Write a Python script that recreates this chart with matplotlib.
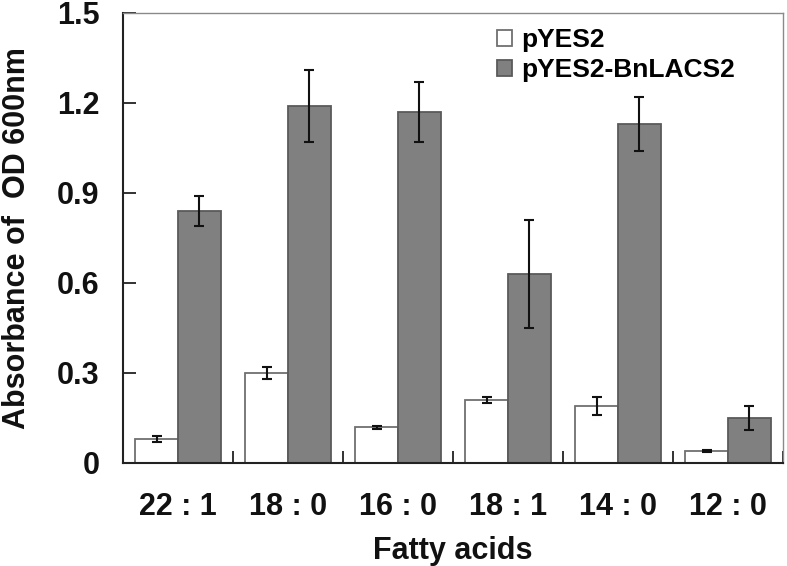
import numpy as np
import matplotlib
matplotlib.use("Agg")
import matplotlib.pyplot as plt
from matplotlib.ticker import FixedLocator

plt.rcParams["font.family"] = ["Liberation Sans", "DejaVu Sans"]
plt.rcParams["font.weight"] = "bold"

# Data
categories = ["22 : 1", "18 : 0", "16 : 0", "18 : 1", "14 : 0", "12 : 0"]
ctrl_vals = [0.08, 0.30, 0.12, 0.21, 0.19, 0.04]
ctrl_err = [0.01, 0.02, 0.005, 0.01, 0.03, 0.003]
lacs_vals = [0.84, 1.19, 1.17, 0.63, 1.13, 0.15]
lacs_err = [0.05, 0.12, 0.10, 0.18, 0.09, 0.04]
series_names = ["pYES2", "pYES2-BnLACS2"]

fig = plt.figure(figsize=(7.87, 5.66), dpi=100)
ax = fig.add_axes([123 / 787, 1 - 463 / 566, 660 / 787, 450 / 566])

x = np.arange(len(categories))
w = 0.39
err_kw = dict(ecolor="#111111", elinewidth=1.5, capsize=3.5, capthick=1.5)
ax.bar(x - w / 2, ctrl_vals, w, yerr=ctrl_err, color="white", edgecolor="#707070",
       linewidth=1.3, error_kw=err_kw, label=series_names[0])
ax.bar(x + w / 2, lacs_vals, w, yerr=lacs_err, color="#808080", edgecolor="#5a5a5a",
       linewidth=1.3, error_kw=err_kw, label=series_names[1])

ax.set_xlim(-0.5, len(categories) - 0.5)
ax.set_ylim(0, 1.5)

ax.set_yticks([0, 0.3, 0.6, 0.9, 1.2, 1.5])
ax.set_yticklabels(["0", "0.3", "0.6", "0.9", "1.2", "1.5"])
ax.set_xticks(x)
ax.set_xticklabels(categories)
ax.xaxis.set_minor_locator(FixedLocator(np.arange(len(categories) + 1) - 0.5))

ax.tick_params(axis="y", direction="in", length=9, width=1.3, color="#222222",
               labelsize=22, pad=17, labelcolor="#111111")
ax.tick_params(axis="x", which="major", length=0, labelsize=22, pad=21, labelcolor="#111111")
ax.tick_params(axis="x", which="minor", direction="in", length=9, width=1.3, color="#222222")

for side in ["left", "bottom"]:
    ax.spines[side].set_color("#222222")
    ax.spines[side].set_linewidth(1.5)
for side in ["top", "right"]:
    ax.spines[side].set_color("#8a8a8a")
    ax.spines[side].set_linewidth(1.0)

ax.set_xlabel("Fatty acids", fontsize=22, fontweight="bold", labelpad=10, color="#111111")
ax.set_ylabel("Absorbance of  OD 600nm", fontsize=22, fontweight="bold", labelpad=18,
              color="#111111")

ax.legend(loc="upper left", bbox_to_anchor=(0.567, 0.966), frameon=False, fontsize=19,
          handlelength=0.55, handleheight=0.55, handletextpad=0.35, labelspacing=0.22,
          borderpad=0, borderaxespad=0)

fig.savefig("out.png", dpi=100)
